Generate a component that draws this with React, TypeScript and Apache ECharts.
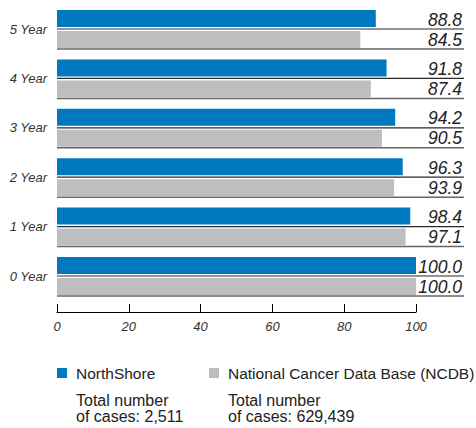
import React, { useEffect, useRef } from "react";
import * as echarts from "echarts";

const categories = ["5 Year", "4 Year", "3 Year", "2 Year", "1 Year", "0 Year"];
const northShore = [88.8, 91.8, 94.2, 96.3, 98.4, 100.0];
const ncdb = [84.5, 87.4, 90.5, 93.9, 97.1, 100.0];
const seriesNames = ["NorthShore", "National Cancer Data Base (NCDB)"];
const totalCases = ["2,511", "629,439"];
const xTicks = [0, 20, 40, 60, 80, 100];

const BLUE = "#0079C1";
const GRAY = "#BDBEC0";
const FONT = "'Liberation Sans', Arial, Helvetica, sans-serif";

export default function App() {
  const ref = useRef<HTMLDivElement>(null);
  useEffect(() => {
    document.body.style.margin = "0";
    if (!ref.current) return;
    const chart = echarts.init(ref.current, undefined, { renderer: "svg" });
    const xMax = xTicks[xTicks.length - 1];
    const legendText = { fontSize: 15.5, color: "#222", padding: [0, 0, 0, 4], fontFamily: FONT };
    const totalStyle = { fontSize: 16, lineHeight: 16, fill: "#222", fontFamily: FONT };
    chart.setOption({
      animation: false,
      textStyle: { fontFamily: FONT },
      grid: { left: 57, right: 60, top: 4.3, height: 296.4, containLabel: false },
      xAxis: {
        type: "value",
        min: xTicks[0],
        max: xMax,
        interval: 20,
        offset: 11.3,
        axisLine: { show: true, lineStyle: { color: "#000", width: 1 } },
        axisTick: { show: true, inside: true, length: 8, lineStyle: { color: "#000" } },
        splitLine: { show: false },
        axisLabel: { fontStyle: "italic", fontSize: 13, color: "#333", margin: 8, fontFamily: FONT },
      },
      yAxis: {
        type: "category",
        data: categories,
        inverse: true,
        axisLine: { show: false },
        axisTick: { show: false },
        axisLabel: { fontStyle: "italic", fontSize: 13, color: "#333", margin: 10, fontFamily: FONT },
      },
      legend: [
        {
          data: [{ name: seriesNames[0], icon: "rect" }],
          left: 57,
          top: 365,
          padding: 0,
          itemWidth: 10,
          itemHeight: 10,
          textStyle: legendText,
          selectedMode: false,
        },
        {
          data: [{ name: seriesNames[1], icon: "rect" }],
          left: 209,
          top: 365,
          padding: 0,
          itemWidth: 10,
          itemHeight: 10,
          textStyle: legendText,
          selectedMode: false,
        },
      ],
      graphic: [
        { type: "text", left: 76, top: 392, style: { text: "Total number", ...totalStyle } },
        { type: "text", left: 76, top: 408, style: { text: "of cases: " + totalCases[0], ...totalStyle } },
        { type: "text", left: 228, top: 392, style: { text: "Total number", ...totalStyle } },
        { type: "text", left: 228, top: 408, style: { text: "of cases: " + totalCases[1], ...totalStyle } },
      ],
      series: [
        {
          name: seriesNames[0],
          type: "bar",
          data: northShore,
          barWidth: 17,
          barGap: "23.5%",
          itemStyle: { color: BLUE },
        },
        {
          name: seriesNames[1],
          type: "bar",
          data: ncdb,
          barWidth: 17,
          itemStyle: { color: GRAY },
        },
        {
          type: "custom",
          silent: true,
          clip: false,
          encode: { x: 0, y: 1 },
          data: categories.map((_, i) => [xMax, i, northShore[i], ncdb[i]]),
          renderItem: (params: any, api: any) => {
            const idx = api.value(1);
            const endPt = api.coord([api.value(0), idx]);
            const startPt = api.coord([0, idx]);
            const cy = endPt[1];
            const x0 = startPt[0];
            const x1 = endPt[0] + 48;
            const txt = {
              align: "right",
              verticalAlign: "bottom",
              fontSize: 17.5,
              fontStyle: "italic",
              fill: "#222",
              fontFamily: FONT,
            };
            return {
              type: "group",
              children: [
                {
                  type: "line",
                  shape: { x1: x0, y1: cy, x2: x1, y2: cy },
                  style: { stroke: "#2a2a2a", lineWidth: 1.2 },
                },
                {
                  type: "line",
                  shape: { x1: x0, y1: cy + 20, x2: x1, y2: cy + 20 },
                  style: { stroke: "#666", lineWidth: 1.5 },
                },
                {
                  type: "text",
                  style: { ...txt, text: api.value(2).toFixed(1), x: x1 - 2, y: cy - 0.5 },
                },
                {
                  type: "text",
                  style: { ...txt, text: api.value(3).toFixed(1), x: x1 - 2, y: cy + 19.5 },
                },
              ],
            };
          },
        },
      ],
    });
    return () => chart.dispose();
  }, []);
  return <div ref={ref} style={{ width: 476, height: 428 }} />;
}
